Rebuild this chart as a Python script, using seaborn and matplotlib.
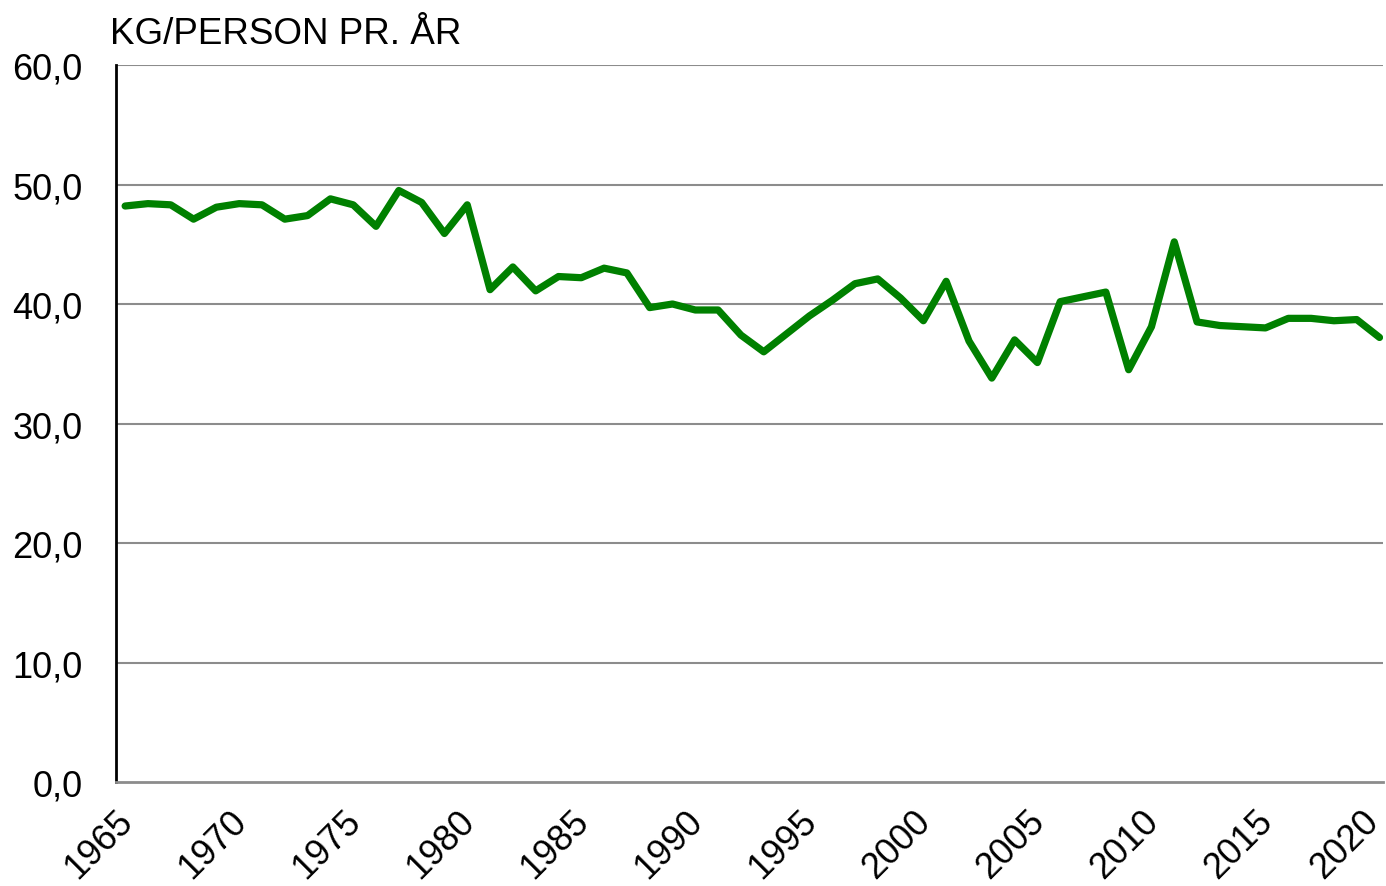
import pandas as pd
import matplotlib.pyplot as plt
import matplotlib.transforms as mtransforms
import seaborn as sns
from matplotlib.ticker import FuncFormatter

years = list(range(1965, 2021))
kg_per_person = [48.2, 48.4, 48.3, 47.1, 48.1, 48.4, 48.3, 47.1, 47.4, 48.8,
                 48.3, 46.5, 49.5, 48.5, 45.9, 48.3, 41.2, 43.1, 41.1, 42.3,
                 42.2, 43.0, 42.6, 39.7, 40.0, 39.5, 39.5, 37.4, 36.0, 37.5,
                 39.0, 40.3, 41.7, 42.1, 40.5, 38.6, 41.9, 36.9, 33.8, 37.0,
                 35.1, 40.2, 40.6, 41.0, 34.5, 38.1, 45.2, 38.5, 38.2, 38.1,
                 38.0, 38.8, 38.8, 38.6, 38.7, 37.2]
tick_years = list(range(1965, 2021, 5))
y_ticks = [0, 10, 20, 30, 40, 50, 60]

df = pd.DataFrame({'year': years, 'kg': kg_per_person})

sns.set_style("white")
plt.rcParams['font.family'] = ['Liberation Sans', 'DejaVu Sans']
plt.rcParams['text.color'] = 'black'

fig = plt.figure(figsize=(13.86, 8.87), dpi=100)
ax = fig.add_axes([0.0837, 0.1172, 0.9141, 0.8084])

for y in y_ticks[1:]:
    ax.axhline(y, color='#8c8c8c', linewidth=1.5, zorder=1)

sns.lineplot(data=df, x='year', y='kg', color='#008000', linewidth=5.2,
             ax=ax, zorder=3)

ax.set_xlim(1964.6, 2020.15)
ax.set_ylim(0, 60)
ax.set_yticks(y_ticks)
ax.yaxis.set_major_formatter(FuncFormatter(lambda v, p: f"{v:.1f}".replace('.', ',')))
ax.set_xticks(tick_years)
ax.set_xticklabels([str(t) for t in tick_years], rotation=45, ha='right',
                   va='center', rotation_mode='anchor')
ax.tick_params(axis='both', length=0, labelsize=26, colors='black')
ax.tick_params(axis='x', pad=24)
ax.tick_params(axis='y', pad=24)
ax.set_xlabel('')
ax.set_ylabel('')

# nudge rotated year labels; keep the last one inside the figure edge
labels = ax.get_xticklabels()
for i, lbl in enumerate(labels):
    dx = -6 if i == len(labels) - 1 else 2
    shift = mtransforms.ScaledTranslation(dx / 100, 0, fig.dpi_scale_trans)
    lbl.set_transform(lbl.get_transform() + shift)

for s in ['top', 'right']:
    ax.spines[s].set_visible(False)
ax.spines['left'].set_color('black')
ax.spines['left'].set_linewidth(2)
ax.spines['bottom'].set_color('#8c8c8c')
ax.spines['bottom'].set_linewidth(2)

fig.text(110 / 1386, 1 - 34 / 887, 'KG/PERSON PR. ÅR', fontsize=26.5,
         ha='left', va='center', color='black')

fig.savefig('out.png', dpi=100)
